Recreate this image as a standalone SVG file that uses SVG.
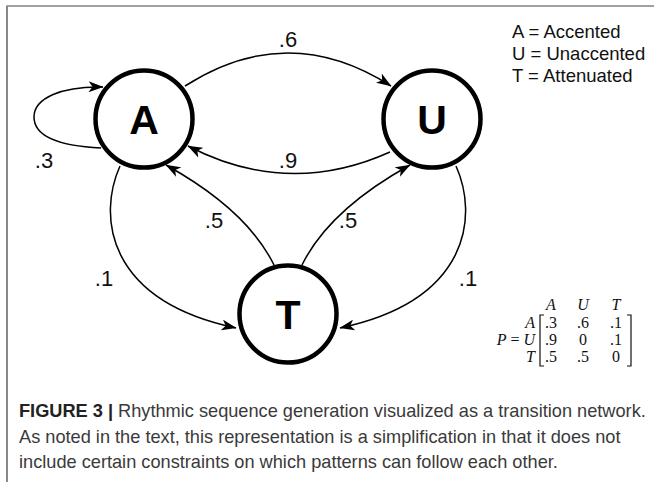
<svg xmlns="http://www.w3.org/2000/svg" width="654" height="482" viewBox="0 0 654 482">
<style>
.node{fill:#fff;stroke:#000;stroke-width:4.5}
.nl{font-family:"Liberation Sans",Arial,sans-serif;font-weight:bold;font-size:41px;text-anchor:middle;fill:#000}
.edge{fill:none;stroke:#000;stroke-width:1.5;marker-end:url(#arr)}
.lbl{font-family:"Liberation Sans",Arial,sans-serif;font-size:22px;text-anchor:middle;fill:#111}
.leg{font-family:"Liberation Sans",Arial,sans-serif;font-size:18.5px;fill:#111}
.mx{font-family:"Liberation Serif","Times New Roman",serif;font-size:16px;fill:#111}
.it{font-style:italic}
.cap{font-family:"Liberation Sans",Arial,sans-serif;font-size:18.2px;fill:#3a3a3a}
</style>
<defs>
<marker id="arr" markerUnits="userSpaceOnUse" markerWidth="16" markerHeight="11" refX="14.5" refY="5.5" orient="auto">
<path d="M0,0 L15,5.5 L0,11 L4,5.5 z" fill="#000"/>
</marker>
</defs>
<g id="frame">
<line x1="7" y1="6" x2="654" y2="6" stroke="#444" stroke-width="1.2"/>
<line x1="7" y1="5.5" x2="7" y2="482" stroke="#888" stroke-width="2"/>
</g>
<g id="connectors">
<path class="edge" d="M101 148 C60 146, 34 137, 34 117 C34 98, 62 86, 103 87"/>
<path class="edge" d="M185 86 Q288 20 391 86"/>
<path class="edge" d="M390 152 Q288 198 188 146"/>
<path class="edge" d="M274 265 Q247 210 166 165"/>
<path class="edge" d="M302 265 Q329 210 410 165"/>
<path class="edge" d="M120 166 C98 215, 105 300, 236 328"/>
<path class="edge" d="M456 166 C478 215, 471 300, 340 328"/>
</g>
<g id="edge-labels">
<text class="lbl" x="288" y="47">.6</text>
<text class="lbl" x="44" y="168">.3</text>
<text class="lbl" x="288" y="168">.9</text>
<text class="lbl" x="214" y="228">.5</text>
<text class="lbl" x="348" y="228">.5</text>
<text class="lbl" x="104" y="286">.1</text>
<text class="lbl" x="468" y="286">.1</text>
</g>
<g id="node-A">
<circle class="node" cx="144" cy="119" r="48.5"/>
<text class="nl" x="144" y="134">A</text>
</g>
<g id="node-U">
<circle class="node" cx="432" cy="119" r="48.5"/>
<text class="nl" x="432" y="134">U</text>
</g>
<g id="node-T">
<circle class="node" cx="288" cy="314" r="48.5"/>
<text class="nl" x="288" y="329">T</text>
</g>
<g id="legend">
<text class="leg" x="512" y="38">A = Accented</text>
<text class="leg" x="512" y="60">U = Unaccented</text>
<text class="leg" x="512" y="82">T = Attenuated</text>
</g>
<g id="matrix">
<text class="mx it" x="551" y="310" text-anchor="middle">A</text>
<text class="mx it" x="583" y="310" text-anchor="middle">U</text>
<text class="mx it" x="616" y="310" text-anchor="middle">T</text>
<text class="mx it" x="535" y="328" text-anchor="end">A</text>
<text class="mx" x="535" y="345" text-anchor="end"><tspan class="it">P</tspan> = <tspan class="it">U</tspan></text>
<text class="mx it" x="535" y="362" text-anchor="end">T</text>
<text class="mx" x="551" y="328" text-anchor="middle">.3</text>
<text class="mx" x="583" y="328" text-anchor="middle">.6</text>
<text class="mx" x="616" y="328" text-anchor="middle">.1</text>
<text class="mx" x="551" y="345" text-anchor="middle">.9</text>
<text class="mx" x="583" y="345" text-anchor="middle">0</text>
<text class="mx" x="616" y="345" text-anchor="middle">.1</text>
<text class="mx" x="551" y="362" text-anchor="middle">.5</text>
<text class="mx" x="583" y="362" text-anchor="middle">.5</text>
<text class="mx" x="616" y="362" text-anchor="middle">0</text>
<path d="M544 315 L540 315 L540 366 L544 366 M627 315 L631 315 L631 366 L627 366" fill="none" stroke="#111" stroke-width="1.2"/>
</g>
<g id="caption">
<text class="cap" x="19" y="417"><tspan font-weight="bold" fill="#222">FIGURE 3 | </tspan>Rhythmic sequence generation visualized as a transition network.</text>
<text class="cap" x="19" y="443">As noted in the text, this representation is a simplification in that it does not</text>
<text class="cap" x="19" y="468">include certain constraints on which patterns can follow each other.</text>
</g>
</svg>
